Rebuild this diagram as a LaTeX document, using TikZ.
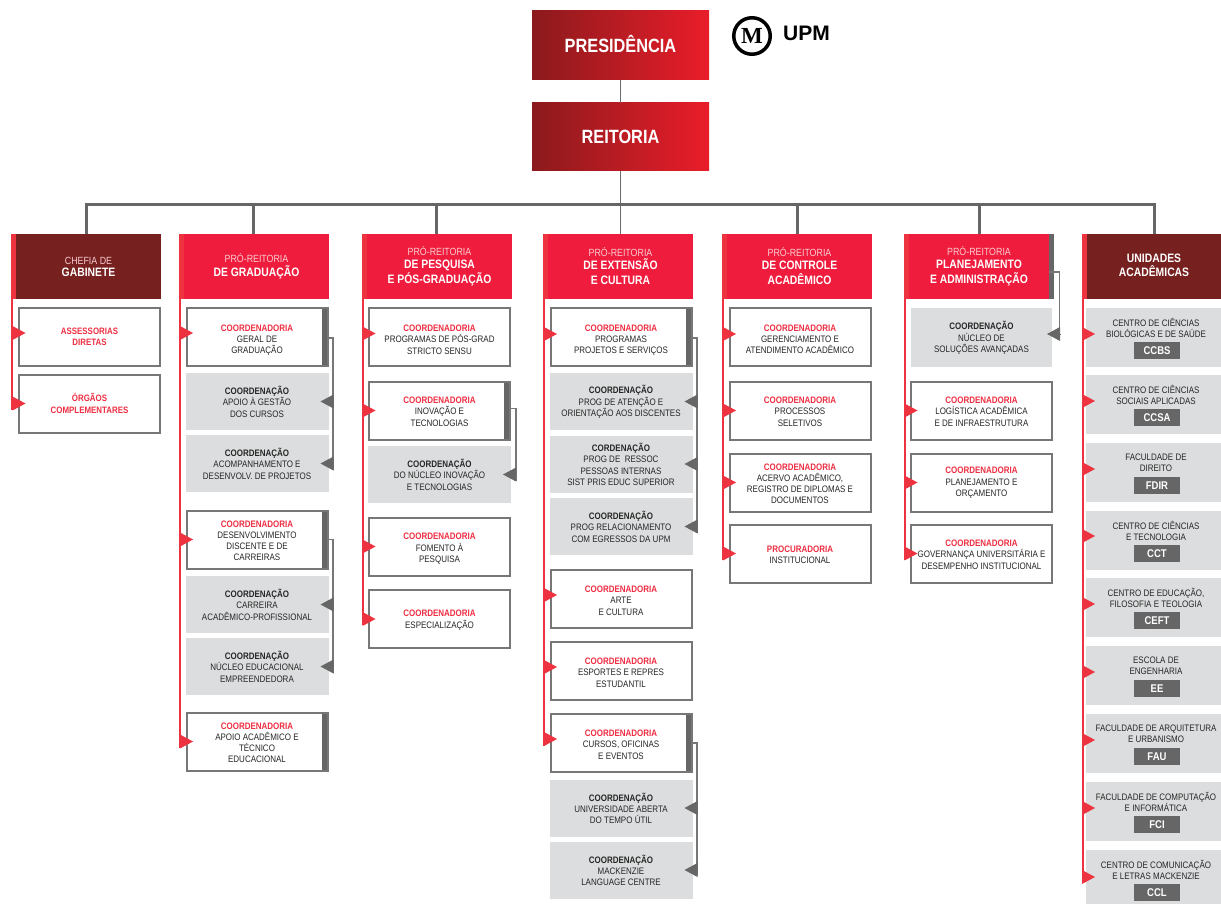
\documentclass[tikz,border=0pt]{standalone}
\usepackage{fontspec}
\setmainfont{Liberation Sans}[FakeStretch=0.85]
\newfontfamily\logofont{Liberation Serif}
\newfontfamily\upmfont{Liberation Sans}
\usetikzlibrary{arrows.meta}
\definecolor{headred}{HTML}{EF1C3D}
\definecolor{headdark}{HTML}{772020}
\definecolor{topleft}{HTML}{8B1A1C}
\definecolor{topright}{HTML}{E91D2A}
\definecolor{pinred}{HTML}{EE3340}
\definecolor{titlered}{HTML}{EE2E42}
\definecolor{boxgrey}{HTML}{DCDDDE}
\definecolor{linegrey}{HTML}{666666}
\definecolor{edgegrey}{HTML}{777777}
\definecolor{softpink}{HTML}{F9CDD2}
\newcommand{\redtitle}[2][9]{\rule{0pt}{#1pt}\textcolor{titlered}{\textbf{#2}}}
\newcommand{\blktitle}[2][9]{\rule{0pt}{#1pt}\textbf{#2}}
\newcommand{\softline}[1]{\rule{0pt}{8.5pt}{\fontsize{10.4}{15}\selectfont\mdseries\color{softpink}#1}}
\begin{document}
\begin{tikzpicture}[
    x = 1pt,
    y = -1pt,
    inner sep=0pt, outer sep=0pt,
    top/.style = {left color=topleft, right color=topright, minimum width=177pt,
              minimum height=68pt, text=white, font=\fontsize{19.2}{24}\selectfont\bfseries},
    head/.style = {fill=headred, minimum height=65pt, minimum width=145pt, text=white, align=center,
              font=\fontsize{12.2}{15}\selectfont\bfseries},
    darkhead/.style = {head, fill=headdark},
    whitebox/.style = {draw=edgegrey, line width=2pt, fill=white, minimum width=141pt,
              minimum height=58pt, align=center, text=black!85,
              font=\fontsize{9.4}{11.3}\selectfont},
    sidebox/.style = {whitebox, path picture={\fill[linegrey] ([xshift=-6pt]path picture bounding box.north east)
              rectangle (path picture bounding box.south east);}},
    greybox/.style = {fill=boxgrey, minimum width=143pt, minimum height=57pt, align=center,
              text=black!85, font=\fontsize{9.4}{11.3}\selectfont},
    unitbox/.style = {fill=boxgrey, minimum width=135pt, minimum height=59pt},
    unittext/.style = {xshift=2.5pt, yshift=9.5pt, align=center, text=black!85,
              font=\fontsize{9.4}{11.3}\selectfont},
    badge/.style = {xshift=3.5pt, yshift=-13pt, fill=linegrey, minimum width=46pt, minimum height=17pt,
              text=white, font=\fontsize{11.2}{13}\selectfont\bfseries},
    bus/.style = {draw=linegrey, line width=3pt},
    stem/.style = {draw=edgegrey!90!black, line width=1.5pt},
    spine/.style = {draw=pinred, line width=1.5pt},
    rail/.style = {draw=edgegrey, line width=1.2pt},
    redpin/.style = {-{Triangle[length=13pt,width=14pt,line width=0pt]}, draw=pinred, line width=1pt, shorten >=-6.5pt},
    greypin/.style = {-{Triangle[length=13pt,width=14pt,line width=0pt]}, draw=linegrey, line width=1pt, shorten >=-8pt},
    ]

\useasboundingbox (0,0) rectangle (1221,904);

\node[top, minimum height=69pt, text depth=4pt] (presidencia) at (620.5,45.5) {PRESIDÊNCIA};
\node[top] (reitoria) at (620.5,137) {REITORIA};
\node[circle, draw=black, line width=3.5pt, minimum size=36.5pt, font=\logofont\fontsize{23}{23}\selectfont\bfseries] (logo_m) at (752,36) {M};
\node[font=\upmfont\fontsize{21}{21}\selectfont\bfseries] (logo_upm) at (806.5,33) {UPM};

% heads
\node[darkhead] (gab_head) at (88.5,266.5) {\softline{CHEFIA DE}\\[-3pt]GABINETE};
\node[head] (grad_head) at (256.5,266.5) {\softline{PRÓ-REITORIA}\\[-1pt]DE GRADUAÇÃO};
\node[head] (pesq_head) at (439.5,266.5) {\softline{PRÓ-REITORIA}\\[-2pt]DE PESQUISA\\E PÓS-GRADUAÇÃO};
\node[head] (ext_head) at (620.5,266.5) {\softline{PRÓ-REITORIA}\\[-2pt]DE EXTENSÃO\\E CULTURA};
\node[head] (ctrl_head) at (799.5,266.5) {\softline{PRÓ-REITORIA}\\[-2pt]DE CONTROLE\\ACADÊMICO};
\node[head, minimum width=140pt] (plan_head) at (979,266.5) {\softline{PRÓ-REITORIA}\\[-2pt]PLANEJAMENTO\\E ADMINISTRAÇÃO};
\node[darkhead, minimum width=134pt] (unit_head) at (1154,266.5) {UNIDADES\\[-1pt]ACADÊMICAS\rule[-2pt]{0pt}{2pt}};

\fill[pinred] ([xshift=-5pt]gab_head.north west) rectangle (gab_head.south west);
\fill[pinred] ([xshift=-5pt]grad_head.north west) rectangle (grad_head.south west);
\fill[pinred] ([xshift=-5pt]pesq_head.north west) rectangle (pesq_head.south west);
\fill[pinred] ([xshift=-5pt]ext_head.north west) rectangle (ext_head.south west);
\fill[pinred] ([xshift=-5pt]ctrl_head.north west) rectangle (ctrl_head.south west);
\fill[pinred] ([xshift=-5pt]plan_head.north west) rectangle (plan_head.south west);
\fill[pinred] ([xshift=-5pt]unit_head.north west) rectangle (unit_head.south west);
\fill[linegrey] (plan_head.north east) rectangle ([xshift=5pt]plan_head.south east);

% top lines
\coordinate (bus_1) at (86,204.5);
\coordinate (bus_2) at (253,204.5);
\coordinate (bus_3) at (436,204.5);
\coordinate (bus_5) at (797,204.5);
\coordinate (bus_6) at (979,204.5);
\coordinate (bus_7) at (1154,204.5);
\draw[stem] (presidencia) -- (reitoria);
\draw[stem] (reitoria) -- (ext_head);
\draw[bus] (bus_1) -- (bus_7);
\draw[bus] ([yshift=1.5pt]bus_1) -- (bus_1 |- gab_head.north);
\draw[bus] (bus_2) -- (bus_2 |- grad_head.north);
\draw[bus] (bus_3) -- (bus_3 |- pesq_head.north);
\draw[bus] (bus_5) -- (bus_5 |- ctrl_head.north);
\draw[bus] (bus_6) -- (bus_6 |- plan_head.north);
\draw[bus] ([yshift=1.5pt]bus_7) -- (bus_7 |- unit_head.north);

% gabinete
\node[whitebox, font=\fontsize{9.3}{11.3}\selectfont] (gab_1) at (89.5,336.5) {\redtitle[7]{ASSESSORIAS}\\\redtitle[0]{DIRETAS}};
\node[whitebox, font=\fontsize{9.3}{11.3}\selectfont] (gab_2) at (89.5,403.5) {\redtitle[7]{ÓRGÃOS}\\\redtitle[0]{COMPLEMENTARES}};

% graduacao
\node[sidebox] (grad_1) at (257,337) {\redtitle[13]{COORDENADORIA}\\GERAL DE\\GRADUAÇÃO};
\node[greybox] (grad_2) at (257,401.5) {\blktitle{COORDENAÇÃO}\\APOIO À GESTÃO\\DOS CURSOS};
\node[greybox] (grad_3) at (257,463.5) {\blktitle{COORDENAÇÃO}\\ACOMPANHAMENTO E\\DESENVOLV. DE PROJETOS};
\node[sidebox] (grad_4) at (257,539.5) {\redtitle{COORDENADORIA}\\DESENVOLVIMENTO\\DISCENTE E DE\\CARREIRAS};
\node[greybox] (grad_5) at (257,604.5) {\blktitle{COORDENAÇÃO}\\CARREIRA\\ACADÊMICO-PROFISSIONAL};
\node[greybox] (grad_6) at (257,666.5) {\blktitle{COORDENAÇÃO}\\NÚCLEO EDUCACIONAL\\EMPREENDEDORA};
\node[sidebox] (grad_7) at (257,741.5) {\redtitle{COORDENADORIA}\\APOIO ACADÊMICO E\\TÉCNICO\\EDUCACIONAL};

% pesquisa
\node[whitebox] (pesq_1) at (439.5,336.5) {\redtitle[13]{COORDENADORIA}\\PROGRAMAS DE PÓS-GRAD\\STRICTO SENSU};
\node[sidebox] (pesq_2) at (439.5,410.5) {\redtitle{COORDENADORIA}\\INOVAÇÃO E\\TECNOLOGIAS};
\node[greybox] (pesq_3) at (439.5,474.5) {\blktitle{COORDENAÇÃO}\\DO NÚCLEO INOVAÇÃO\\E TECNOLOGIAS};
\node[whitebox] (pesq_4) at (439.5,546.5) {\redtitle[11]{COORDENADORIA}\\FOMENTO À\\PESQUISA};
\node[whitebox] (pesq_5) at (439.5,619) {\redtitle{COORDENADORIA}\\ESPECIALIZAÇÃO};

% extensao
\node[sidebox] (ext_1) at (621,337) {\redtitle[13]{COORDENADORIA}\\PROGRAMAS\\PROJETOS E SERVIÇOS};
\node[greybox] (ext_2) at (621,401.5) {\blktitle{COORDENAÇÃO}\\PROG DE ATENÇÃO E\\ORIENTAÇÃO AOS DISCENTES};
\node[greybox] (ext_3) at (621,464) {\blktitle{CORDENAÇÃO}\\PROG DE\ \ RESSOC\\PESSOAS INTERNAS\\SIST PRIS EDUC SUPERIOR};
\node[greybox] (ext_4) at (621,526.5) {\blktitle{COORDENAÇÃO}\\PROG RELACIONAMENTO\\COM EGRESSOS DA UPM};
\node[whitebox] (ext_5) at (621,598.5) {\redtitle[11]{COORDENADORIA}\\ARTE\\E CULTURA};
\node[whitebox] (ext_6) at (621,670.5) {\redtitle[11]{COORDENADORIA}\\ESPORTES E REPRES\\ESTUDANTIL};
\node[sidebox] (ext_7) at (621,742.5) {\redtitle[11]{COORDENADORIA}\\CURSOS, OFICINAS\\E EVENTOS};
\node[greybox] (ext_8) at (621,808) {\blktitle{COORDENAÇÃO}\\UNIVERSIDADE ABERTA\\DO TEMPO ÚTIL};
\node[greybox] (ext_9) at (621,870) {\blktitle{COORDENAÇÃO}\\MACKENZIE\\LANGUAGE CENTRE};

% controle
\node[whitebox] (ctrl_1) at (800,337) {\redtitle[11]{COORDENADORIA}\\GERENCIAMENTO E\\ATENDIMENTO ACADÊMICO};
\node[whitebox] (ctrl_2) at (800,410.5) {\redtitle{COORDENADORIA}\\PROCESSOS\\SELETIVOS};
\node[whitebox] (ctrl_3) at (800,482.5) {\redtitle{COORDENADORIA}\\ACERVO ACADÊMICO,\\REGISTRO DE DIPLOMAS E\\DOCUMENTOS};
\node[whitebox] (ctrl_4) at (800,553.5) {\redtitle{PROCURADORIA}\\INSTITUCIONAL};

% planejamento
\node[greybox, minimum width=141pt, minimum height=59pt] (plan_1) at (981.5,337.5) {\blktitle{COORDENAÇÃO}\\NÚCLEO DE\\SOLUÇÕES AVANÇADAS};
\node[whitebox] (plan_2) at (981.5,410.5) {\redtitle{COORDENADORIA}\\LOGÍSTICA ACADÊMICA\\E DE INFRAESTRUTURA};
\node[whitebox] (plan_3) at (981.5,482.5) {\redtitle[7]{COORDENADORIA}\\PLANEJAMENTO E\\ORÇAMENTO};
\node[whitebox] (plan_4) at (981.5,553.5) {\redtitle{COORDENADORIA}\\GOVERNANÇA UNIVERSITÁRIA E\\DESEMPENHO INSTITUCIONAL};

% unidades
\node[unitbox] (unit_1) at (1153.5,337.5) {};
\node[unitbox] (unit_2) at (1153.5,404.5) {};
\node[unitbox] (unit_3) at (1153.5,472.5) {};
\node[unitbox] (unit_4) at (1153.5,540.5) {};
\node[unitbox] (unit_5) at (1153.5,607.5) {};
\node[unitbox] (unit_6) at (1153.5,675.5) {};
\node[unitbox] (unit_7) at (1153.5,743.5) {};
\node[unitbox] (unit_8) at (1153.5,811.5) {};
\node[unitbox, minimum height=54pt] (unit_9) at (1153.5,877) {};

\node[unittext] (unit_1_name) at (unit_1) {CENTRO DE CIÊNCIAS\\BIOLÓGICAS E DE SAÚDE};
\node[unittext] (unit_2_name) at (unit_2) {CENTRO DE CIÊNCIAS\\SOCIAIS APLICADAS};
\node[unittext] (unit_3_name) at (unit_3) {FACULDADE DE\\DIREITO};
\node[unittext] (unit_4_name) at (unit_4) {CENTRO DE CIÊNCIAS\\E TECNOLOGIA};
\node[unittext] (unit_5_name) at (unit_5) {CENTRO DE EDUCAÇÃO,\\FILOSOFIA E TEOLOGIA};
\node[unittext] (unit_6_name) at (unit_6) {ESCOLA DE\\ENGENHARIA};
\node[unittext] (unit_7_name) at (unit_7) {FACULDADE DE ARQUITETURA\\E URBANISMO};
\node[unittext] (unit_8_name) at (unit_8) {FACULDADE DE COMPUTAÇÃO\\E INFORMÁTICA};
\node[unittext, yshift=-2.5pt] (unit_9_name) at (unit_9) {CENTRO DE COMUNICAÇÃO\\E LETRAS MACKENZIE};

\node[badge] (unit_1_tag) at (unit_1) {CCBS};
\node[badge] (unit_2_tag) at (unit_2) {CCSA};
\node[badge] (unit_3_tag) at (unit_3) {FDIR};
\node[badge] (unit_4_tag) at (unit_4) {CCT};
\node[badge] (unit_5_tag) at (unit_5) {CEFT};
\node[badge] (unit_6_tag) at (unit_6) {EE};
\node[badge] (unit_7_tag) at (unit_7) {FAU};
\node[badge] (unit_8_tag) at (unit_8) {FCI};
\node[badge, yshift=-2.5pt] (unit_9_tag) at (unit_9) {CCL};

% red lines
\coordinate (gab_line) at (12,0);
\coordinate (grad_line) at (180,0);
\coordinate (pesq_line) at (363,0);
\coordinate (ext_line) at (544,0);
\coordinate (ctrl_line) at (723,0);
\coordinate (plan_line) at (905,0);
\coordinate (unit_line) at (1083,0);

\draw[spine] (gab_line |- gab_head.south) -- ([yshift=-6pt]gab_2.west -| gab_line);
\draw[spine] (grad_line |- grad_head.south) -- ([yshift=-6pt]grad_7.west -| grad_line);
\draw[spine] (pesq_line |- pesq_head.south) -- ([yshift=-6pt]pesq_5.west -| pesq_line);
\draw[spine] (ext_line |- ext_head.south) -- ([yshift=-3pt]ext_7.west -| ext_line);
\draw[spine] (ctrl_line |- ctrl_head.south) -- ([yshift=-6pt]ctrl_4.west -| ctrl_line);
\draw[spine] (plan_line |- plan_head.south) -- ([yshift=-6pt]plan_4.west -| plan_line);
\draw[spine] (unit_line |- unit_head.south) -- ([yshift=-6pt]unit_9.west -| unit_line);

\draw[redpin] ([yshift=3.5pt]gab_1.west -| gab_line) -- ([yshift=3.5pt]gab_1.west);
\draw[redpin] (gab_2.west -| gab_line) -- (gab_2.west);
\draw[redpin] ([yshift=4pt]grad_1.west -| grad_line) -- ([yshift=4pt]grad_1.west);
\draw[redpin] (grad_4.west -| grad_line) -- (grad_4.west);
\draw[redpin] (grad_7.west -| grad_line) -- (grad_7.west);
\draw[redpin] ([yshift=3pt]pesq_1.west -| pesq_line) -- ([yshift=3pt]pesq_1.west);
\draw[redpin] (pesq_2.west -| pesq_line) -- (pesq_2.west);
\draw[redpin] (pesq_4.west -| pesq_line) -- (pesq_4.west);
\draw[redpin] (pesq_5.west -| pesq_line) -- (pesq_5.west);
\draw[redpin] ([yshift=3pt]ext_1.west -| ext_line) -- ([yshift=3pt]ext_1.west);
\draw[redpin] ([yshift=3.5pt]ext_5.west -| ext_line) -- ([yshift=3.5pt]ext_5.west);
\draw[redpin] ([yshift=3.5pt]ext_6.west -| ext_line) -- ([yshift=3.5pt]ext_6.west);
\draw[redpin] ([yshift=3.5pt]ext_7.west -| ext_line) -- ([yshift=3.5pt]ext_7.west);
\draw[redpin] ([yshift=3pt]ctrl_1.west -| ctrl_line) -- ([yshift=3pt]ctrl_1.west);
\draw[redpin] (ctrl_2.west -| ctrl_line) -- (ctrl_2.west);
\draw[redpin] (ctrl_3.west -| ctrl_line) -- (ctrl_3.west);
\draw[redpin] (ctrl_4.west -| ctrl_line) -- (ctrl_4.west);
\draw[redpin] (plan_2.west -| plan_line) -- (plan_2.west);
\draw[redpin] (plan_3.west -| plan_line) -- (plan_3.west);
\draw[redpin] (plan_4.west -| plan_line) -- (plan_4.west);
\draw[redpin, shorten >=-9pt] ([yshift=3.5pt]unit_1.west -| unit_line) -- ([yshift=3.5pt]unit_1.west);
\draw[redpin, shorten >=-9pt] ([yshift=3.5pt]unit_2.west -| unit_line) -- ([yshift=3.5pt]unit_2.west);
\draw[redpin, shorten >=-9pt] ([yshift=3.5pt]unit_3.west -| unit_line) -- ([yshift=3.5pt]unit_3.west);
\draw[redpin, shorten >=-9pt] ([yshift=4.5pt]unit_4.west -| unit_line) -- ([yshift=4.5pt]unit_4.west);
\draw[redpin, shorten >=-9pt] ([yshift=3.5pt]unit_5.west -| unit_line) -- ([yshift=3.5pt]unit_5.west);
\draw[redpin, shorten >=-9pt] ([yshift=3.5pt]unit_6.west -| unit_line) -- ([yshift=3.5pt]unit_6.west);
\draw[redpin, shorten >=-9pt] ([yshift=3.5pt]unit_7.west -| unit_line) -- ([yshift=3.5pt]unit_7.west);
\draw[redpin, shorten >=-9pt] ([yshift=3.5pt]unit_8.west -| unit_line) -- ([yshift=3.5pt]unit_8.west);
\draw[redpin, shorten >=-9pt] (unit_9.west -| unit_line) -- (unit_9.west);

% grey rails
\coordinate (grad_rail) at (333,0);
\coordinate (pesq_rail) at (516,0);
\coordinate (ext_rail) at (697,0);
\coordinate (plan_rail) at (1059.5,0);

\draw[rail] ([yshift=-1pt]grad_1.east) -- ([yshift=-1pt]grad_1.east -| grad_rail) -- ([yshift=-6pt]grad_3.east -| grad_rail);
\draw[rail] (grad_4.east) -- (grad_4.east -| grad_rail) -- ([yshift=-6pt]grad_6.east -| grad_rail);
\draw[rail] ([yshift=2pt]pesq_2.east) -- ([yshift=2pt]pesq_2.east -| pesq_rail) -- ([yshift=-6pt]pesq_3.east -| pesq_rail);
\draw[rail] ([yshift=-1pt]ext_1.east) -- ([yshift=-1pt]ext_1.east -| ext_rail) -- ([yshift=-6pt]ext_4.east -| ext_rail);
\draw[rail] ([yshift=-0.5pt]ext_7.east) -- ([yshift=-0.5pt]ext_7.east -| ext_rail) -- ([yshift=-5pt]ext_9.east -| ext_rail);
\draw[rail] ([yshift=-5.5pt]plan_head.east) -- ([yshift=-5.5pt]plan_head.east -| plan_rail) -- ([yshift=-2pt]plan_1.east -| plan_rail);

\draw[greypin] (grad_2.east -| grad_rail) -- (grad_2.east);
\draw[greypin] (grad_3.east -| grad_rail) -- (grad_3.east);
\draw[greypin] (grad_5.east -| grad_rail) -- (grad_5.east);
\draw[greypin] (grad_6.east -| grad_rail) -- (grad_6.east);
\draw[greypin] (pesq_3.east -| pesq_rail) -- (pesq_3.east);
\draw[greypin] (ext_2.east -| ext_rail) -- (ext_2.east);
\draw[greypin] (ext_3.east -| ext_rail) -- (ext_3.east);
\draw[greypin] (ext_4.east -| ext_rail) -- (ext_4.east);
\draw[greypin] (ext_8.east -| ext_rail) -- (ext_8.east);
\draw[greypin] (ext_9.east -| ext_rail) -- (ext_9.east);
\draw[greypin, shorten >=-5pt] ([yshift=3.5pt]plan_1.east -| plan_rail) -- ([yshift=3.5pt]plan_1.east);

\end{tikzpicture}
\end{document}
